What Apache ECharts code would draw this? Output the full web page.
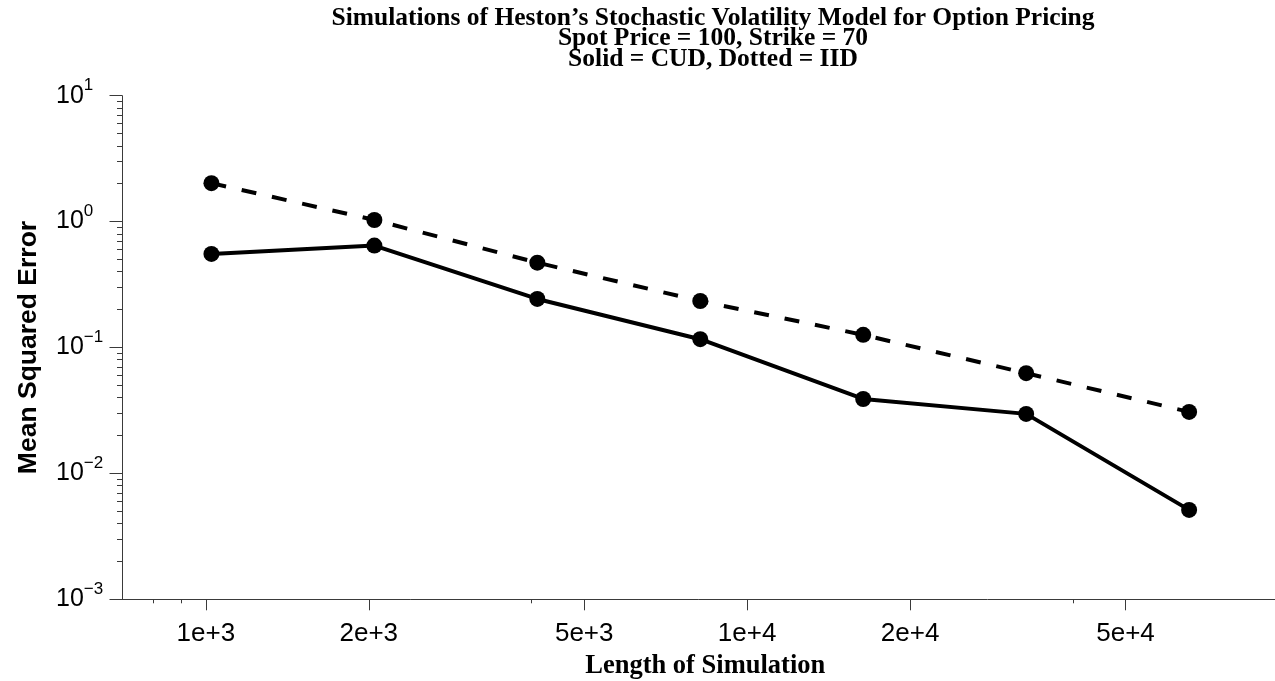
<!DOCTYPE html>
<html>
<head>
<meta charset="utf-8">
<script src="https://cdn.jsdelivr.net/npm/echarts@6/dist/echarts.min.js"></script>
<style>
html,body{margin:0;padding:0;background:#fff;}
#chart{width:1275px;height:681px;}
</style>
</head>
<body>
<div id="chart"></div>
<script>
// ---- data ----
const sampleSizes = [1024, 2048, 4096, 8192, 16384, 32768, 65536];
const cudMSE = [0.554, 0.645, 0.243, 0.1164, 0.039, 0.0297, 0.00513];
const iidMSE = [2.02, 1.03, 0.472, 0.234, 0.126, 0.0625, 0.0308];
const xMajorTicks = [1000, 2000, 5000, 10000, 20000, 50000];
const xTickLabels = ['1e+3', '2e+3', '5e+3', '1e+4', '2e+4', '5e+4'];
const xMinorTicks = [800, 900, 4000, 40000];
const yExponents = [-3, -2, -1, 0, 1];
const yMinorMultipliers = [2, 3, 4, 5, 6, 7, 8, 9];

const titleText = 'Simulations of Heston\u2019s Stochastic Volatility Model for Option Pricing\nSpot Price = 100, Strike = 70\nSolid = CUD, Dotted = IID';
const xName = 'Length of Simulation';
const yName = 'Mean Squared Error';

// ---- build ----
const L = Math.log10;
const xMin = L(700), xMax = 5;
const yMin = yExponents[0], yMax = yExponents[yExponents.length - 1];
const toPairs = arr => sampleSizes.map((x, i) => [L(x), L(arr[i])]);
const yMinorVals = [];
yExponents.slice(0, -1).forEach(e => yMinorMultipliers.forEach(m => yMinorVals.push(L(m * Math.pow(10, e)))));

const axisColor = '#3a3a3a';
const sans = 'Liberation Sans';
const serif = 'Liberation Serif';

const chart = echarts.init(document.getElementById('chart'), null, {renderer: 'canvas'});
chart.setOption({
  backgroundColor: '#fff',
  animation: false,
  title: {
    text: titleText,
    left: 713, top: 8, textAlign: 'center', padding: 0,
    textStyle: {fontFamily: serif, fontWeight: 'bold', fontSize: 25.5, lineHeight: 20.5, color: '#000'}
  },
  grid: {left: 122, top: 95.7, right: 1275 - 122 - (xMax - xMin) * 541.3, bottom: 81.7,
         containLabel: false, outerBoundsMode: 'none'},
  xAxis: [{
    type: 'value', min: xMin, max: xMax, position: 'bottom',
    axisLine: {show: true, onZero: false, lineStyle: {color: axisColor, width: 1}},
    axisTick: {show: true, length: 11, lineStyle: {color: axisColor}, customValues: xMajorTicks.map(L)},
    axisLabel: {
      customValues: xMajorTicks.map(L), margin: 22,
      fontFamily: sans, fontSize: 26, color: '#000',
      formatter: v => {
        let best = 0;
        xMajorTicks.forEach((t, i) => { if (Math.abs(L(t) - v) < Math.abs(L(xMajorTicks[best]) - v)) best = i; });
        return xTickLabels[best];
      }
    },
    splitLine: {show: false},
    name: xName, nameLocation: 'middle', nameGap: 50,
    nameTextStyle: {fontFamily: serif, fontWeight: 'bold', fontSize: 26.5, color: '#000'}
  }, {
    type: 'value', min: xMin, max: xMax, position: 'bottom',
    axisLine: {show: false, onZero: false},
    axisTick: {show: true, length: 4, lineStyle: {color: axisColor}, customValues: xMinorTicks.map(L)},
    axisLabel: {show: false},
    splitLine: {show: false}
  }],
  yAxis: [{
    type: 'value', min: yMin, max: yMax, interval: 1, position: 'left',
    axisLine: {show: true, onZero: false, lineStyle: {color: axisColor, width: 1}},
    axisTick: {show: true, length: 12.5, lineStyle: {color: axisColor}},
    axisLabel: {
      margin: 66, align: 'left', color: '#000',
      formatter: v => '{b|10}{s|' + (v < 0 ? '\u2212' + (-v) : String(v)) + '}',
      rich: {
        b: {fontFamily: sans, fontSize: 25, lineHeight: 37, color: '#000'},
        s: {fontFamily: sans, fontSize: 17, lineHeight: 17, verticalAlign: 'top', color: '#000'}
      }
    },
    splitLine: {show: false},
    name: yName, nameLocation: 'middle', nameGap: 80, nameRotate: 90,
    nameTextStyle: {fontFamily: sans, fontWeight: 'bold', fontSize: 26.5, color: '#000'}
  }, {
    type: 'value', min: yMin, max: yMax, position: 'left',
    axisLine: {show: false, onZero: false},
    axisTick: {show: true, length: 5, lineStyle: {color: axisColor}, customValues: yMinorVals},
    axisLabel: {show: false},
    splitLine: {show: false}
  }],
  series: [{
    name: 'IID', type: 'line', xAxisIndex: 0, yAxisIndex: 0,
    data: toPairs(iidMSE),
    lineStyle: {color: '#000', width: 4, type: [15, 16], cap: 'butt'},
    itemStyle: {color: '#000'},
    symbol: 'circle', symbolSize: 16, z: 3
  }, {
    name: 'CUD', type: 'line', xAxisIndex: 0, yAxisIndex: 0,
    data: toPairs(cudMSE),
    lineStyle: {color: '#000', width: 4, type: 'solid'},
    itemStyle: {color: '#000'},
    symbol: 'circle', symbolSize: 16, z: 3
  }]
});
</script>
</body>
</html>
